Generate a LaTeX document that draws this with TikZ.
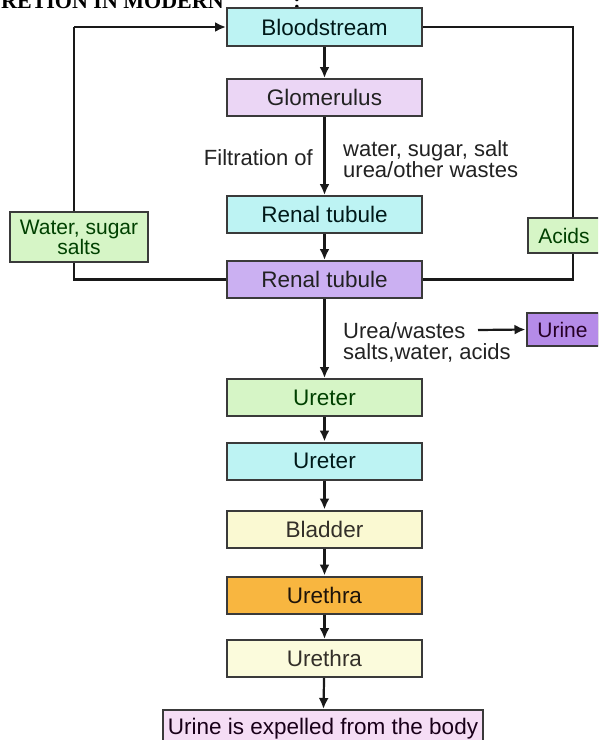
\documentclass[tikz,border=0pt]{standalone}
\usepackage{fontspec}
\setmainfont{Liberation Sans}
\newfontfamily\titlefont{Liberation Serif}
\usetikzlibrary{arrows.meta}
\definecolor{cyanbox}{HTML}{BDF3F3}
\definecolor{glombox}{HTML}{EBD6F5}
\definecolor{purbox}{HTML}{CBB0F2}
\definecolor{grnbox}{HTML}{D6F5C6}
\definecolor{ylwbox}{HTML}{FAF9D2}
\definecolor{orgbox}{HTML}{F8B640}
\definecolor{paleylw}{HTML}{FBFBDC}
\definecolor{pinkbox}{HTML}{F5DDF5}
\definecolor{urinebox}{HTML}{B58BE8}
\definecolor{boxline}{HTML}{3A3A3A}
\definecolor{txtdark}{HTML}{222222}
\tikzset{
  flowbox/.style={draw=boxline, line width=2pt, rectangle, inner sep=0pt,
    minimum width=195pt, minimum height=37pt, align=center, text=txtdark,
    font=\fontsize{22.5}{22.5}\selectfont},
  sidebox/.style={draw=boxline, line width=2pt, rectangle, inner sep=0pt,
    align=center, text=txtdark, font=\fontsize{21}{20}\selectfont},
  lbl/.style={inner sep=0pt, align=left, text=txtdark, font=\fontsize{22}{21}\selectfont},
  conn/.style={line width=2.2pt, draw=black!90},
  arr/.style={conn, -{Latex[length=11pt,width=10pt]}}
}
\begin{document}
\begin{tikzpicture}[x=1pt,y=-1pt]
\useasboundingbox (0,0) rectangle (598,740);
\clip (0,0) rectangle (598,740);
\fill[white] (0,0) rectangle (598,740);
% title fragment (cut off at the top edge, as in the reference)
\node[anchor=base west, inner sep=0pt, font=\titlefont\bfseries\fontsize{22}{22}\selectfont] (title) at (1,8) {RETION IN MODERN};
\node[anchor=base, inner sep=0pt, font=\titlefont\bfseries\fontsize{22}{22}\selectfont] (colon) at (297,8) {:};
% main flow
\node[flowbox, fill=cyanbox, minimum height=38pt, text=black!80!teal] (blood) at (324.5,27) {Bloodstream};
\node[flowbox, fill=glombox] (glom) at (324.5,97.5) {Glomerulus};
\node[flowbox, fill=cyanbox, text=black!80!teal] (renalA) at (324.5,214.5) {Renal tubule};
\node[flowbox, fill=purbox] (renalB) at (324.5,279.5) {Renal tubule};
\node[flowbox, fill=grnbox, text=black!75!green] (ureterA) at (324.5,397.5) {Ureter};
\node[flowbox, fill=cyanbox, text=black!80!teal] (ureterB) at (324.5,461) {Ureter};
\node[flowbox, fill=ylwbox, text=black!85!olive] (bladder) at (324.5,529) {Bladder};
\node[flowbox, fill=orgbox, text=black!85!brown] (urethA) at (324.5,595) {Urethra};
\node[flowbox, fill=paleylw, text=black!85!olive] (urethB) at (324.5,658.5) {Urethra};
\node[flowbox, fill=pinkbox, minimum width=320pt, minimum height=38pt, text=black!80!violet] (final) at (323,729) {\raisebox{-4pt}{Urine is expelled from the body}};
% side labels
\node[lbl, anchor=east] (filt) at (313,158) {Filtration of};
\node[lbl, anchor=west] (filtwhat) at (343,159) {water, sugar, salt\\urea/other wastes};
\node[lbl, anchor=west] (waste) at (343,342) {Urea/wastes\\salts,water, acids};
\node[sidebox, fill=urinebox, minimum width=72pt, minimum height=33pt, text=black!70!violet] (urine) at (562.5,329.5) {Urine};
% connectors
\draw[arr] (blood) -- (glom);
\draw[arr] (glom) -- (renalA);
\draw[arr] (renalA) -- (renalB);
\draw[arr] (renalB) -- (ureterA);
\draw[arr] (ureterA) -- (ureterB);
\draw[arr] (ureterB) -- (bladder);
\draw[arr] (bladder) -- (urethA);
\draw[arr] (urethA) -- (urethB);
\draw[arr] (urethB) -- (final);
\coordinate (wasteend) at (478,330);
\draw[arr] (wasteend) -- (urine.west);
% reabsorption loops
\coordinate (lbot) at (74,279.5);
\coordinate (ltop) at (74,27);
\coordinate (rtop) at (573,27);
\coordinate (rbot) at (573,279.5);
\draw[conn] (renalB.west) -- (lbot) -- (ltop);
\draw[arr] (ltop) -- (blood.west);
\draw[conn] (blood.east) -- (rtop) -- (rbot) -- (renalB.east);
% boxes on the loops
\node[sidebox, fill=grnbox, minimum width=138pt, minimum height=50pt, text=black!75!green] (water) at (79,237) {Water, sugar\\salts};
\node[sidebox, fill=grnbox, minimum width=72pt, minimum height=35pt, text=black!75!green] (acids) at (564,235.5) {Acids};
\end{tikzpicture}
\end{document}
